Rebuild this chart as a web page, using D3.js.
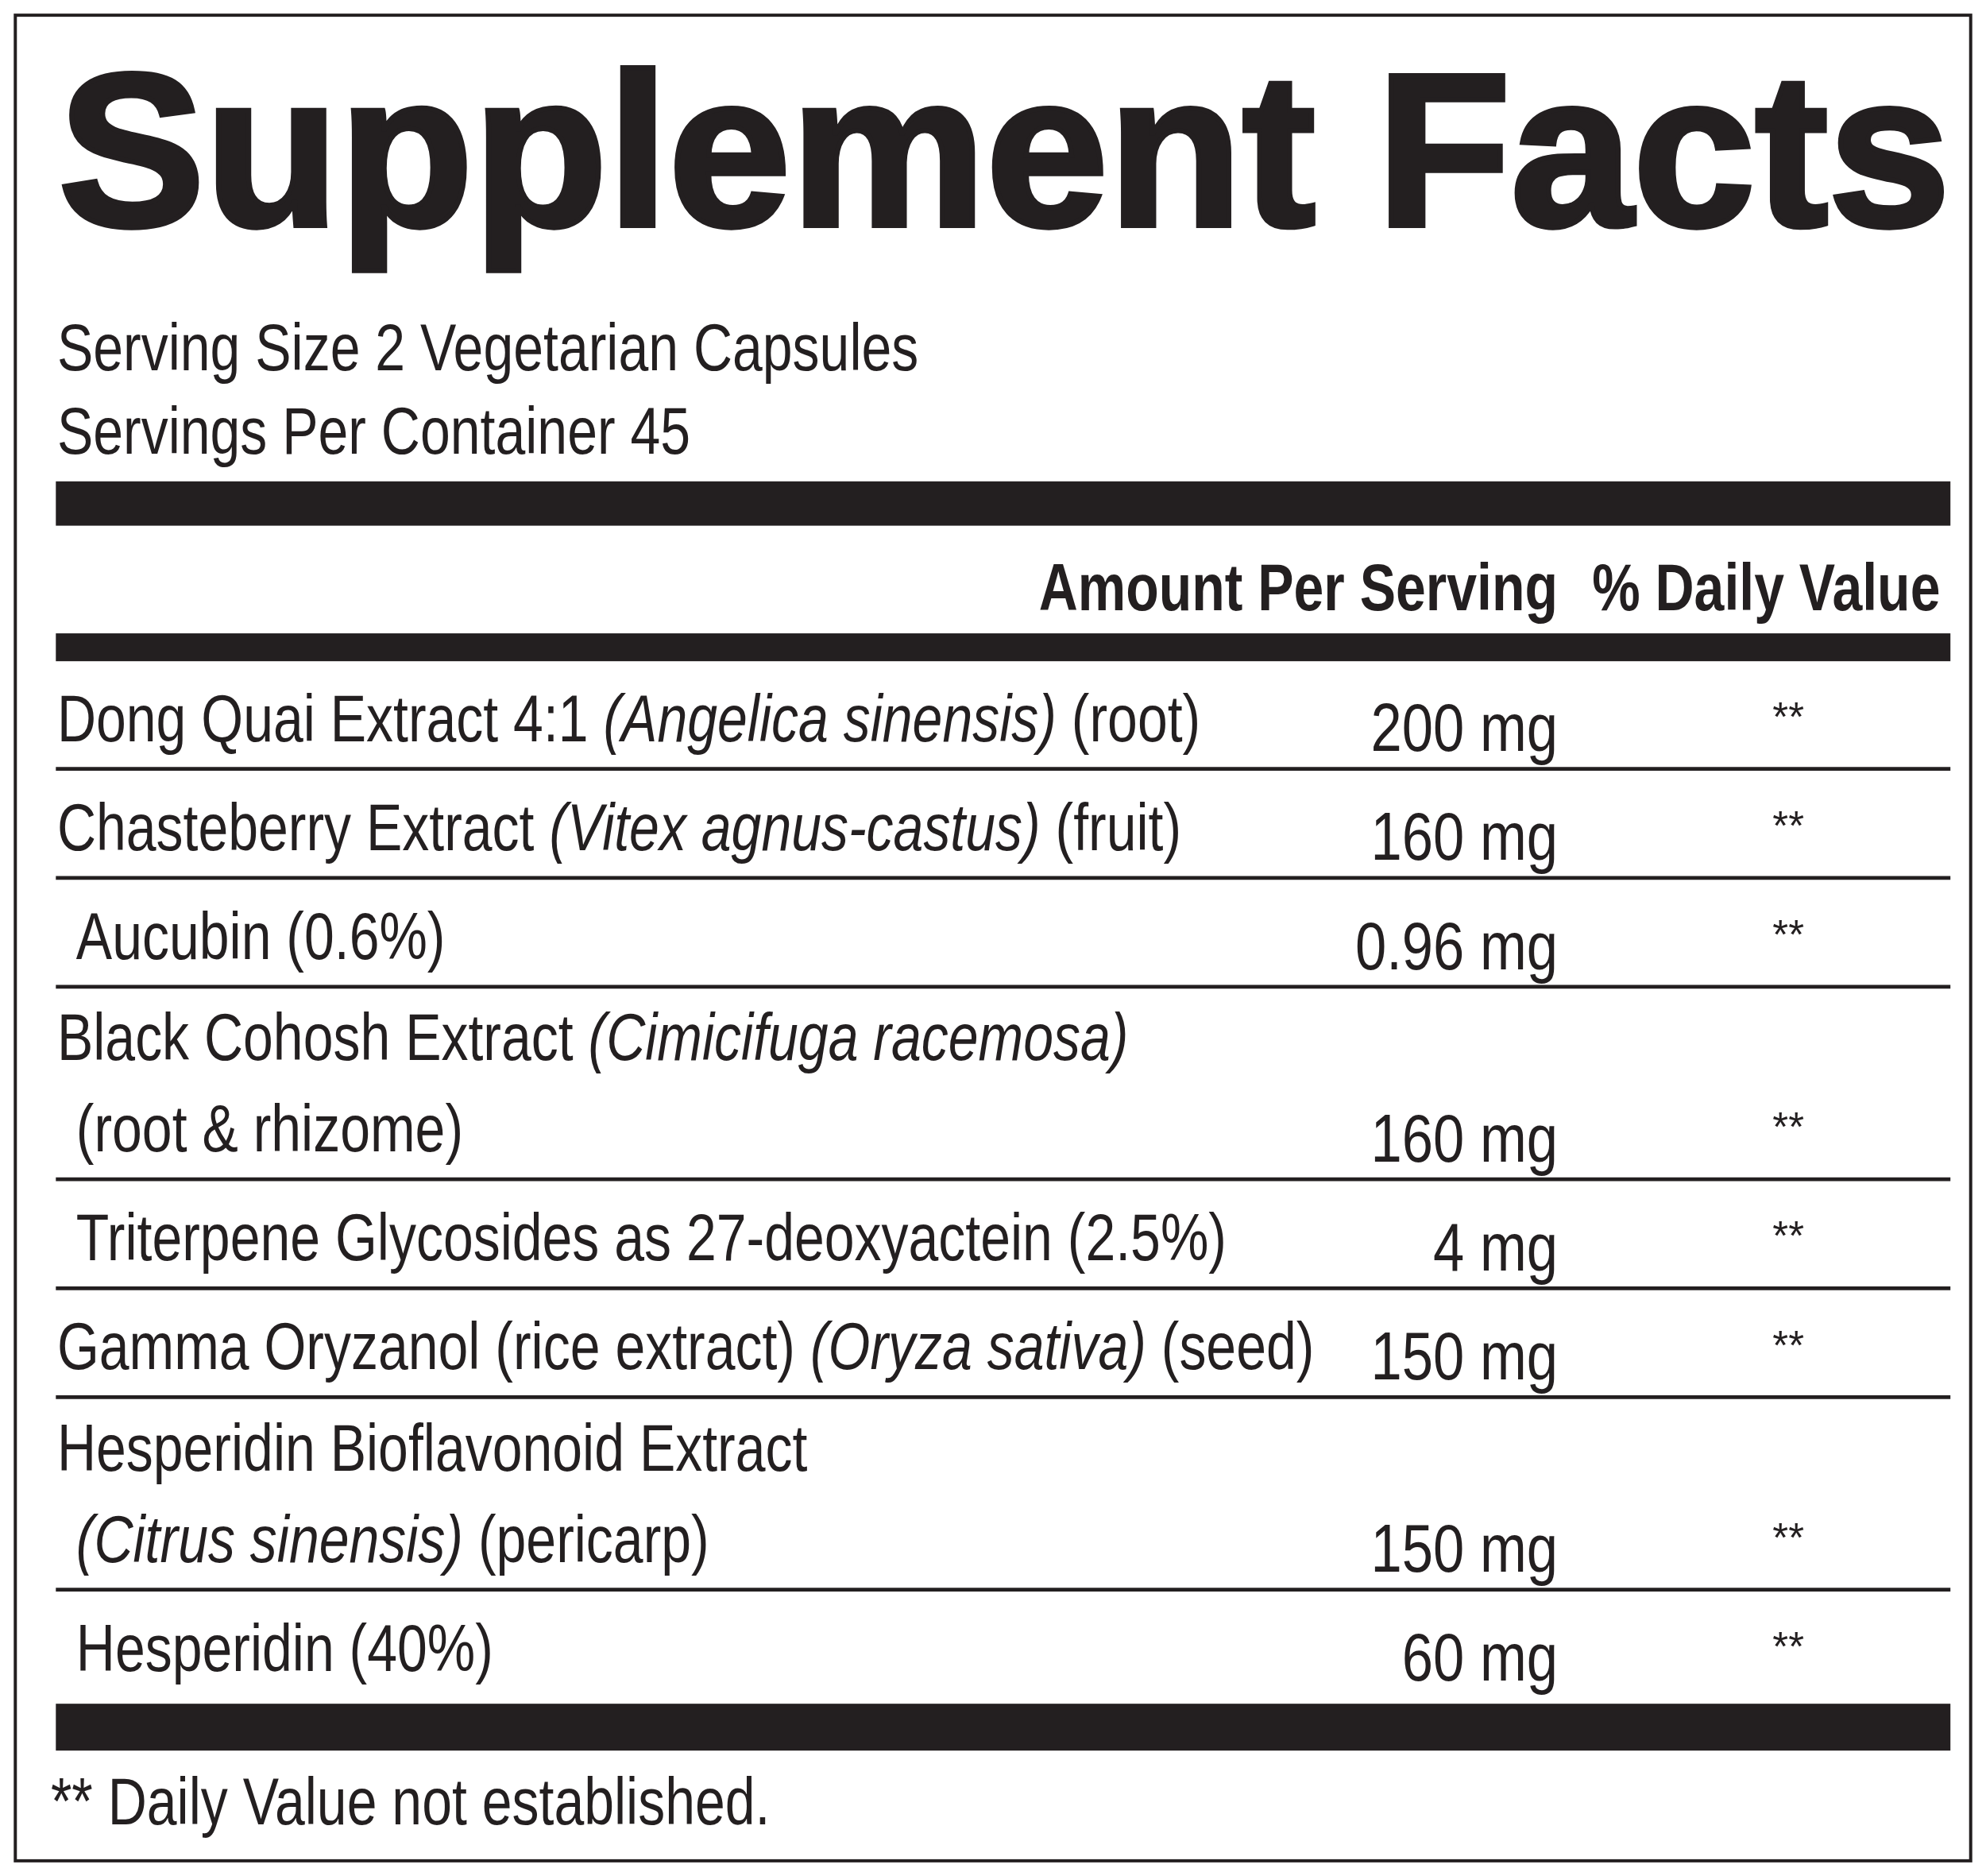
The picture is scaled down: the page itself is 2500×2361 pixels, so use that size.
<!DOCTYPE html>
<html><head><meta charset="utf-8">
<script src="https://cdn.jsdelivr.net/npm/d3@7"></script>
<style>body{margin:0;background:#fff}</style>
</head><body>
<svg id="c" width="2500" height="2361" viewBox="0 0 1568 1481"></svg>
<script>
const title = "Supplement Facts";
const servingLines = ["Serving Size 2 Vegetarian Capsules", "Servings Per Container 45"];
const headers = ["Amount Per Serving", "% Daily Value"];
// each ingredient: lines of [text, italic] segments
const ingredients = [
  [[["Dong Quai Extract 4:1 ", 0], ["(Angelica sinensis)", 1], [" (root)", 0]]],
  [[["Chasteberry Extract ", 0], ["(Vitex agnus-castus)", 1], [" (fruit)", 0]]],
  [[["Aucubin (0.6%)", 0]]],
  [[["Black Cohosh Extract ", 0], ["(Cimicifuga racemosa)", 1]], [["(root & rhizome)", 0]]],
  [[["Triterpene Glycosides as 27-deoxyactein (2.5%)", 0]]],
  [[["Gamma Oryzanol (rice extract) ", 0], ["(Oryza sativa)", 1], [" (seed)", 0]]],
  [[["Hesperidin Bioflavonoid Extract", 0]], [["(Citrus sinensis)", 1], [" (pericarp)", 0]]],
  [[["Hesperidin (40%)", 0]]]
];
const indents = [0, 0, 1, 0, 1, 0, 0, 1];
const amounts = ["200 mg", "160 mg", "0.96 mg", "160 mg", "4 mg", "150 mg", "150 mg", "60 mg"];
const dailyValues = ["**", "**", "**", "**", "**", "**", "**", "**"];
const footnote = "** Daily Value not established.";

const svg = d3.select("#c");
const ink = "#231f20";
const font = "'Liberation Sans',Arial,sans-serif";
const sx = 0.82; // condensed look

// narrow text placed at (x,y)
function ntext(parent, x, y, size) {
  return parent.append("text").attr("transform", `translate(${x},${y}) scale(${sx},1)`)
    .attr("font-family", font).attr("font-size", size).attr("fill", ink);
}

// outer frame
svg.append("rect").attr("x", 12).attr("y", 12).attr("width", 1544).attr("height", 1457)
  .attr("fill", "none").attr("stroke", ink).attr("stroke-width", 2.5);

svg.append("text").attr("x", 46).attr("y", 178).text(title)
  .attr("font-family", font).attr("font-weight", 900)
  .attr("font-size", 172).attr("fill", ink).attr("textLength", 1494).attr("lengthAdjust", "spacingAndGlyphs")
  .attr("stroke", ink).attr("stroke-width", 4);

servingLines.forEach((d, i) => ntext(svg, 45, 292 + i * 66, 52).text(d));

// thick bars
const bars = [[380, 35], [500, 22], [1345, 37]];
svg.selectAll(".bar").data(bars).join("rect")
  .attr("x", 44).attr("width", 1496).attr("y", d => d[0]).attr("height", d => d[1]).attr("fill", ink);

const amtX = 1230, dvX = 1532, starX = 1412;
headers.forEach((d, i) => ntext(svg, i ? dvX : amtX, 482, 52).text(d)
  .attr("text-anchor", "end").attr("font-weight", 700));

// rows: variable heights by line count
const lineH = 72;
let y0 = 522;
const rows = ingredients.map((lines, i) => {
  const h = i === 0 ? 85 : lines.length > 1 ? 152 : 86;
  const r = { lines, i, top: y0, h };
  y0 += h;
  return r;
});
const g = svg.selectAll(".row").data(rows).join("g");
g.each(function (r) {
  const gg = d3.select(this);
  const bottom = r.top + r.h;
  r.lines.forEach((segs, li) => {
    const t = ntext(gg, 45 + (indents[r.i] || li ? 15 : 0), bottom - 22 - (r.lines.length - 1 - li) * lineH, 52);
    segs.forEach(s => t.append("tspan").text(s[0]).attr("font-style", s[1] ? "italic" : null));
  });
  ntext(gg, amtX, bottom - 14, 54).attr("text-anchor", "end").text(amounts[r.i]);
  gg.append("text").attr("x", starX).attr("y", bottom - 30).attr("text-anchor", "middle")
    .text(dailyValues[r.i]).attr("font-family", font).attr("font-size", 32).attr("fill", ink);
  if (r.i < rows.length - 1)
    gg.append("line").attr("x1", 44).attr("x2", 1540).attr("y1", bottom).attr("y2", bottom)
      .attr("stroke", ink).attr("stroke-width", 3);
});

ntext(svg, 40, 1440, 52).text(footnote);
</script>
</body></html>
